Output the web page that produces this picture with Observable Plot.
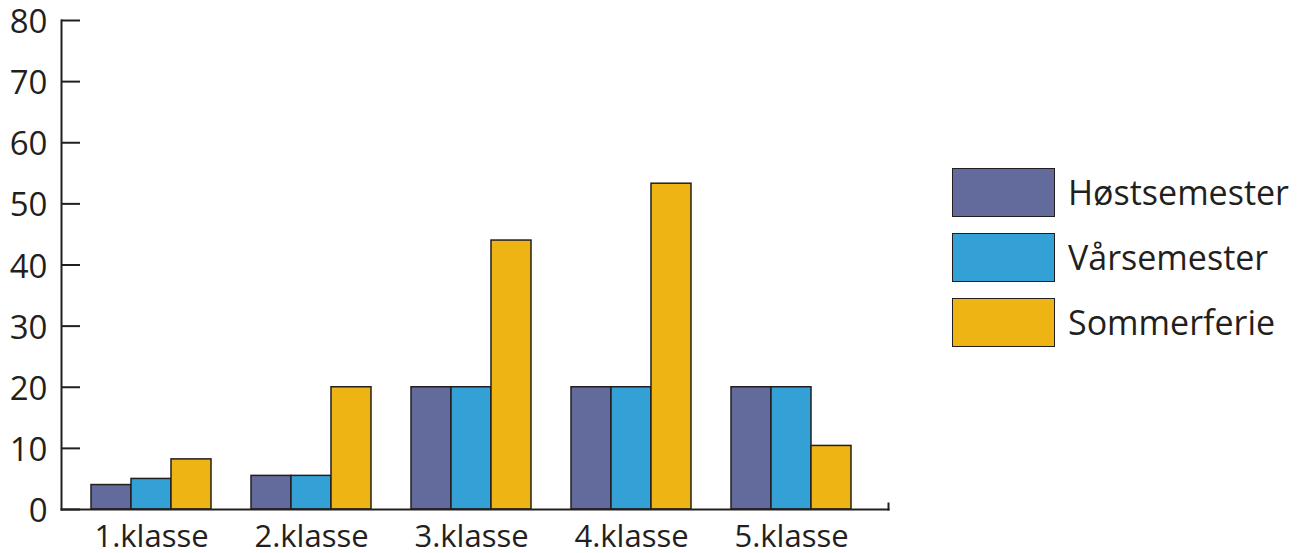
<!DOCTYPE html>
<html>
<head>
<meta charset="utf-8">
<script src="https://cdn.jsdelivr.net/npm/d3@7"></script>
<script src="https://cdn.jsdelivr.net/npm/@observablehq/plot@0.6"></script>
<style>
  html, body { margin: 0; padding: 0; background: #fff; }
  #wrap { position: relative; width: 1305px; height: 553px; font-family: "Open Sans", sans-serif; color: #231f20; }
  #legend { position: absolute; left: 952px; top: 167px; }
  .row { display: flex; align-items: center; height: 50px; margin-bottom: 15px; }
  .sw { width: 101px; height: 47px; border: 1.5px solid #231f20; box-sizing: content-box; }
  .lab { margin-left: 13px; font-size: 34px; line-height: 1; }
</style>
</head>
<body>
<div id="wrap"></div>
<script>
const classes = ["1.klasse", "2.klasse", "3.klasse", "4.klasse", "5.klasse"];
const series = ["Høstsemester", "Vårsemester", "Sommerferie"];
const hostValues = [4, 5.5, 20, 20, 20];
const varValues = [5, 5.5, 20, 20, 20];
const sommerValues = [8.2, 20, 44, 53.3, 10.4];
const colors = ["#636a9c", "#33a1d6", "#edb413"];
const yTicks = [0, 10, 20, 30, 40, 50, 60, 70, 80];

const W = 1305, H = 553;
const mL = 61, mR = 417, mT = 20, mB = 44;
const pInner = 0.2512, pOuter = 0.206, align = 0.44;
const innerW = W - mL - mR;
const step = innerW / (classes.length - pInner + 2 * pOuter);
const bw = step * (1 - pInner);
const third = bw / 3;
const ink = "#231f20";

const seriesValues = [hostValues, varValues, sommerValues];
const barMarks = seriesValues.map((vals, s) =>
  Plot.barY(classes.map((c, i) => ({klasse: c, value: vals[i], serie: series[s]})), {
    x: "klasse",
    y: "value",
    fill: colors[s],
    stroke: ink,
    strokeWidth: 1.5,
    insetLeft: s * third,
    insetRight: (2 - s) * third
  })
);

const chart = Plot.plot({
  width: W,
  height: H,
  marginLeft: mL,
  marginRight: mR,
  marginTop: mT,
  marginBottom: mB,
  style: {fontFamily: "Open Sans, sans-serif", fontSize: "30px", color: ink, background: "transparent", overflow: "visible"},
  x: {domain: classes, paddingInner: pInner, paddingOuter: pOuter, align: align, axis: null},
  y: {domain: [0, 80], axis: null},
  marks: [
    ...barMarks,
    Plot.axisX({tickSize: 0, tickPadding: 15, fontSize: 31, fill: ink, label: null}),
    Plot.axisY(yTicks, {tickSize: 0, tickPadding: 14, fontSize: 33, fill: ink, label: null, dy: 2}),
    Plot.tickY(yTicks, {y: d => d, stroke: ink, strokeWidth: 2, insetRight: innerW - 19}),
    Plot.frame({anchor: "left", stroke: ink, strokeWidth: 2}),
    Plot.frame({anchor: "bottom", stroke: ink, strokeWidth: 2}),
    Plot.frame({anchor: "right", stroke: ink, strokeWidth: 2, insetTop: H - mT - mB - 6})
  ]
});

const wrap = document.getElementById("wrap");
wrap.appendChild(chart);

const legend = document.createElement("div");
legend.id = "legend";
series.forEach((name, i) => {
  const row = document.createElement("div");
  row.className = "row";
  const sw = document.createElement("div");
  sw.className = "sw";
  sw.style.background = colors[i];
  const lab = document.createElement("span");
  lab.className = "lab";
  lab.textContent = name;
  row.appendChild(sw);
  row.appendChild(lab);
  legend.appendChild(row);
});
wrap.appendChild(legend);
</script>
</body>
</html>
